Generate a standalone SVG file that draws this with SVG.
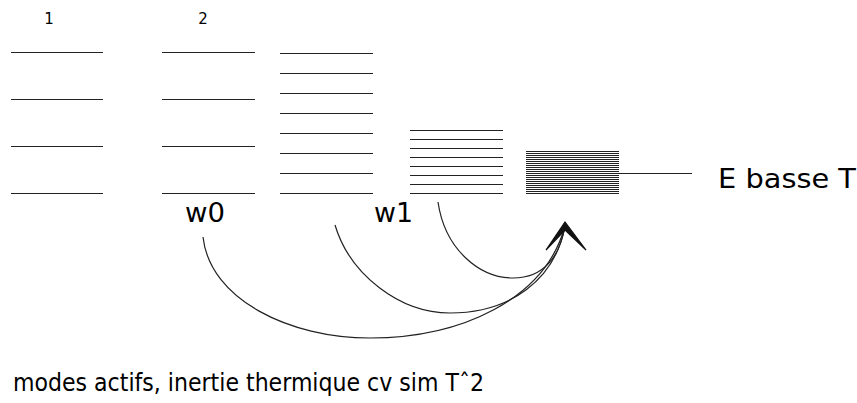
<svg xmlns="http://www.w3.org/2000/svg" width="857" height="403" viewBox="0 0 857 403">
<style>
.lv{stroke:#222;stroke-width:1.2}
.lv2{stroke:#222;stroke-width:1}
.t{font-family:"DejaVu Sans",sans-serif;fill:#000}
.c{fill:none;stroke:#222;stroke-width:1.2}
</style>
<rect width="857" height="403" fill="#fff"/>
<g id="col1">
<text class="t" x="49" y="24" font-size="15" text-anchor="middle">1</text>
<line class="lv" x1="11" y1="52.5" x2="103" y2="52.5"/>
<line class="lv" x1="11" y1="99.5" x2="103" y2="99.5"/>
<line class="lv" x1="11" y1="146.5" x2="103" y2="146.5"/>
<line class="lv" x1="11" y1="193.5" x2="103" y2="193.5"/>
</g>
<g id="col2">
<text class="t" x="203" y="24" font-size="15" text-anchor="middle">2</text>
<line class="lv" x1="162" y1="52.5" x2="255" y2="52.5"/>
<line class="lv" x1="162" y1="99.5" x2="255" y2="99.5"/>
<line class="lv" x1="162" y1="146.5" x2="255" y2="146.5"/>
<line class="lv" x1="162" y1="193.5" x2="255" y2="193.5"/>
<text class="t" x="185" y="222" font-size="26" textLength="40" lengthAdjust="spacingAndGlyphs">w0</text>
</g>
<g id="col3">
<line class="lv" x1="280" y1="53.5" x2="373" y2="53.5"/>
<line class="lv" x1="280" y1="73.5" x2="373" y2="73.5"/>
<line class="lv" x1="280" y1="93.5" x2="373" y2="93.5"/>
<line class="lv" x1="280" y1="113.5" x2="373" y2="113.5"/>
<line class="lv" x1="280" y1="133.5" x2="373" y2="133.5"/>
<line class="lv" x1="280" y1="153.5" x2="373" y2="153.5"/>
<line class="lv" x1="280" y1="173.5" x2="373" y2="173.5"/>
<line class="lv" x1="280" y1="193.5" x2="373" y2="193.5"/>
<text class="t" x="374" y="222" font-size="26" textLength="39" lengthAdjust="spacingAndGlyphs">w1</text>
</g>
<g id="col4">
<line class="lv" x1="410" y1="130.5" x2="503" y2="130.5"/>
<line class="lv" x1="410" y1="139.5" x2="503" y2="139.5"/>
<line class="lv" x1="410" y1="148.5" x2="503" y2="148.5"/>
<line class="lv" x1="410" y1="157.5" x2="503" y2="157.5"/>
<line class="lv" x1="410" y1="166.5" x2="503" y2="166.5"/>
<line class="lv" x1="410" y1="175.5" x2="503" y2="175.5"/>
<line class="lv" x1="410" y1="184.5" x2="503" y2="184.5"/>
<line class="lv" x1="410" y1="193.5" x2="503" y2="193.5"/>
</g>
<g id="col5">
<path class="lv2" d="M526,151.5H619M526,153.5H619M526,155.5H619M526,157.5H619M526,159.5H619M526,161.5H619M526,163.5H619M526,165.5H619M526,167.5H619M526,169.5H619M526,171.5H619M526,173.5H619M526,175.5H619M526,177.5H619M526,179.5H619M526,181.5H619M526,183.5H619M526,185.5H619M526,187.5H619M526,189.5H619M526,191.5H619M526,193.5H619"/>
</g>
<g id="label-ebasse">
<line class="lv" x1="619" y1="173.5" x2="692" y2="173.5"/>
<text class="t" x="718" y="188" font-size="27" textLength="138" lengthAdjust="spacingAndGlyphs">E basse T</text>
</g>
<g id="connectors">
<path class="c" d="M203,237 C210,300 290,338 370,338 C460,338 545,300 565,226"/>
<path class="c" d="M335,225 C350,275 400,313 450,313 C510,313 555,280 565,226"/>
<path class="c" d="M438,202 C445,250 480,278 513,278 C545,278 560,255 565,226"/>
<path d="M546,250 L565,222 L586,250 L565,230 Z" fill="#111" stroke="#111" stroke-width="1.2" stroke-linejoin="miter"/>
</g>
<g id="caption">
<text class="t" x="13" y="391" font-size="25" textLength="471" lengthAdjust="spacingAndGlyphs">modes actifs, inertie thermique cv sim Tˆ2</text>
</g>
</svg>
